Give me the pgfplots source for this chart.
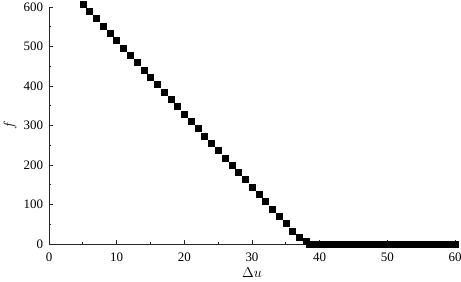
\documentclass[border=0pt]{standalone}
\usepackage{pgfplots}
\pgfplotsset{compat=1.18}
\usepackage{fontspec}
\setmainfont{Liberation Serif}
\begin{document}
\begin{tikzpicture}
\useasboundingbox (-49bp,-38bp) rectangle (412bp,244bp);
\begin{axis}[
  at={(0,0)}, anchor=south west,
  scale only axis, width=406bp, height=237bp,
  xmin=0, xmax=60, ymin=0, ymax=600,
  axis x line*=bottom, axis y line*=left,
  axis line style={line width=0.8bp, black!85},
  xtick={0,10,...,60}, ytick={0,100,...,600},
  minor x tick num=1, minor y tick num=1,
  tick align=inside,
  major tick length=4bp, minor tick length=2.5bp,
  tick style={line width=0.7bp, black!85},
  clip=false,
  /pgf/number format/assume math mode=true,
  tick label style={font=\fontsize{13}{15}\selectfont},
  xticklabel style={anchor=center, yshift=-13.5bp},
  yticklabel style={xshift=-2.5bp},
  xlabel={$\Delta u$},
  ylabel={$f$},
  xlabel style={at={(axis description cs:0.5,-0.1224)}, anchor=center, font=\fontsize{14}{16}\selectfont},
  ylabel style={at={(axis description cs:-0.096,0.5)}, anchor=center, font=\fontsize{14}{16}\selectfont},
]
\addplot[only marks, mark=square*, mark size=3bp, black] coordinates {
(5,607.5)(6,589)(7,570.5)(8,552)(9,533.4)(10,514.9)(11,496.4)(12,477.8)
(13,459.3)(14,440.8)(15,422.2)(16,403.7)(17,385.2)(18,366.6)(19,348.1)
(20,329.6)(21,311.1)(22,292.5)(23,274.0)(24,255.5)(25,236.9)(26,218.4)
(27,199.9)(28,181.3)(29,162.8)(30,144.3)(31,125.8)(32,107.2)(33,88.7)
(34,70.2)(35,51.6)(36,33.1)(37,16)(38,6)
(38.5,0)(39,0)(39.5,0)(40,0)(40.5,0)(41,0)(41.5,0)(42,0)(42.5,0)(43,0)
(43.5,0)(44,0)(44.5,0)(45,0)(45.5,0)(46,0)(46.5,0)(47,0)(47.5,0)(48,0)
(48.5,0)(49,0)(49.5,0)(50,0)(50.5,0)(51,0)(51.5,0)(52,0)(52.5,0)(53,0)
(53.5,0)(54,0)(54.5,0)(55,0)(55.5,0)(56,0)(56.5,0)(57,0)(57.5,0)(58,0)
(58.5,0)(59,0)(59.5,0)(60,0)
};
\end{axis}
\end{tikzpicture}
\end{document}
